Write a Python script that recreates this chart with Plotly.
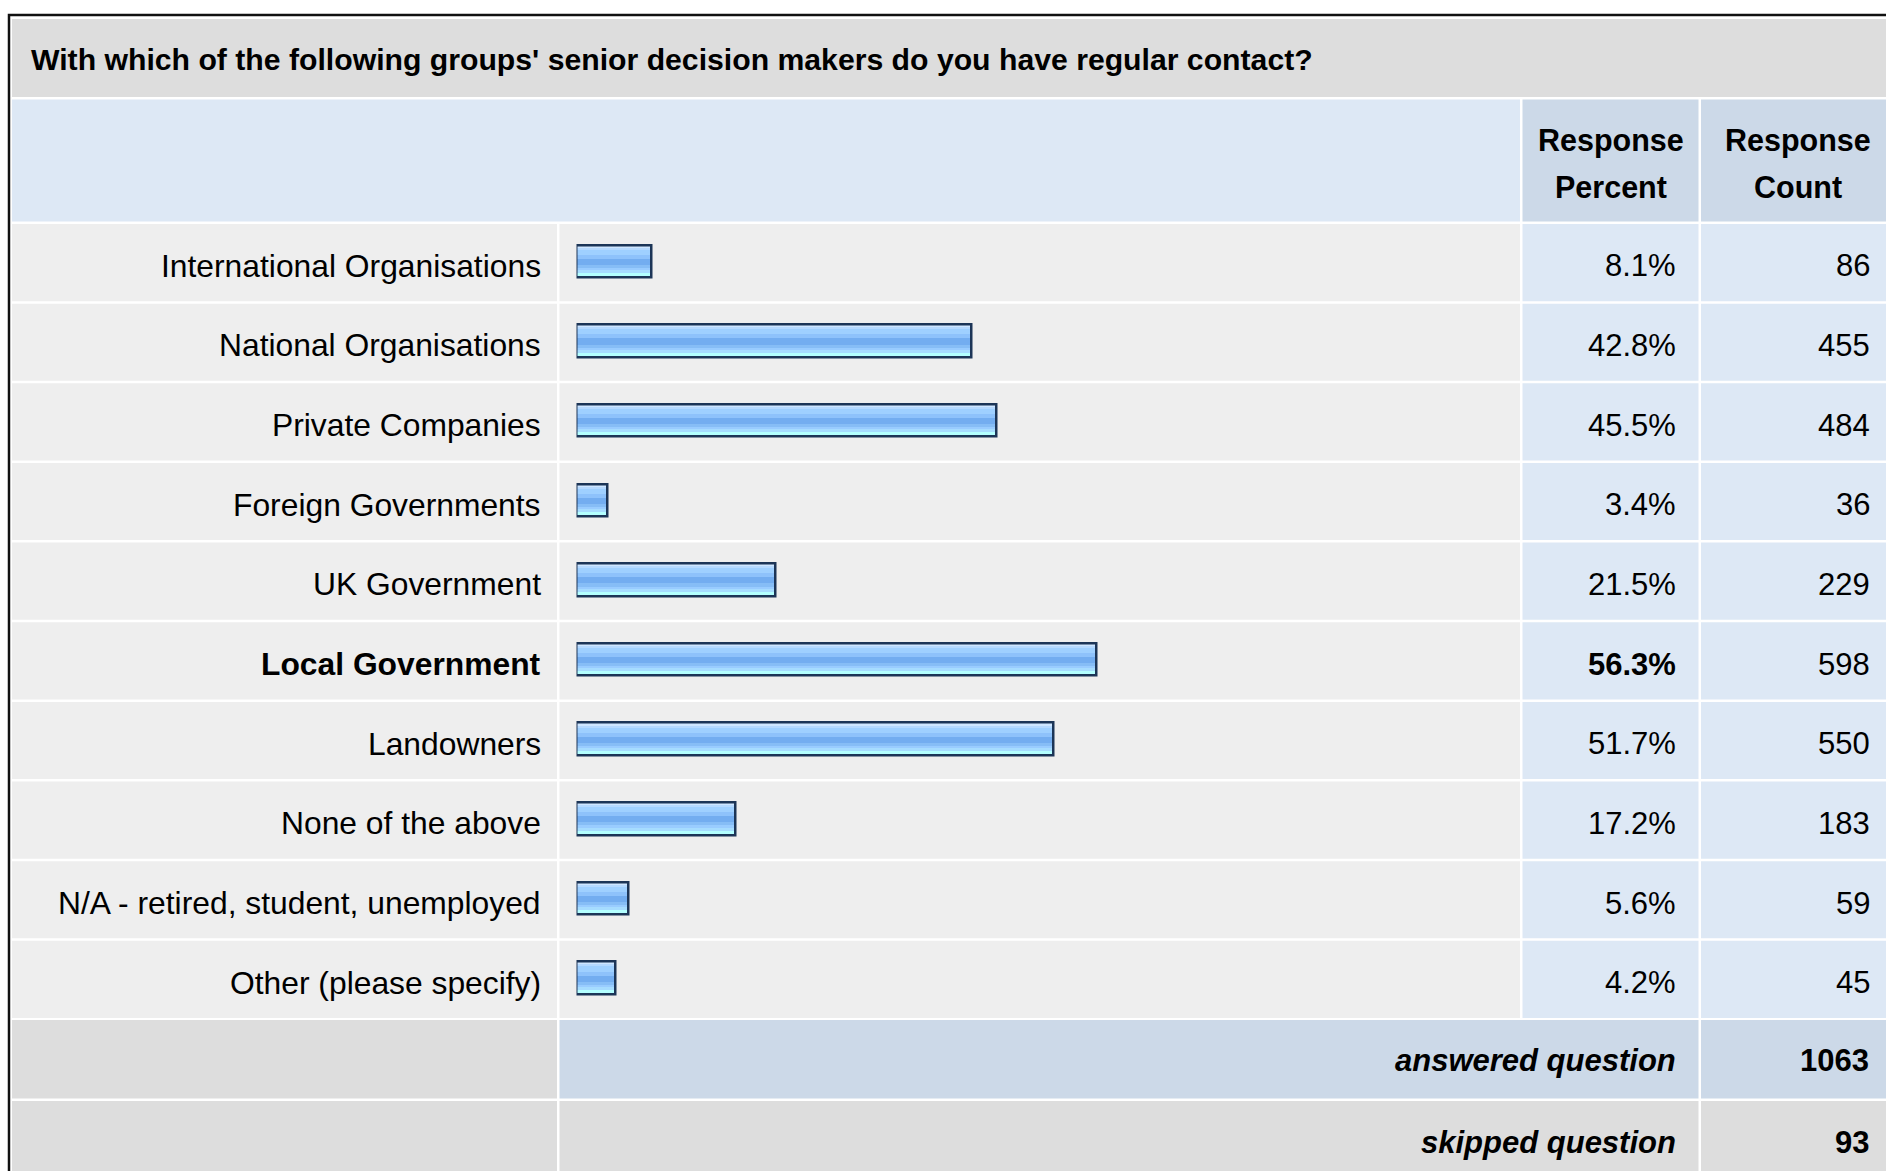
import plotly.graph_objects as go

W, H = 1886, 1171

title = "With which of the following groups' senior decision makers do you have regular contact?"
categories = ["International Organisations", "National Organisations", "Private Companies",
              "Foreign Governments", "UK Government", "Local Government", "Landowners",
              "None of the above", "N/A - retired, student, unemployed", "Other (please specify)"]
percents = [8.1, 42.8, 45.5, 3.4, 21.5, 56.3, 51.7, 17.2, 5.6, 4.2]
counts = [86, 455, 484, 36, 229, 598, 550, 183, 59, 45]
highlight = "Local Government"
header_top = ["Response", "Response"]
header_bottom = ["Percent", "Count"]
answered = 1063
skipped = 93

# pixel -> paper helpers
def px(x):
    return x / W

def py(y):
    return 1 - y / H

# stripe colours of the bar gradient, top to bottom (relative thickness)
stripes = [("#cfe6ff", 2), ("#b5d9ff", 2), ("#9fd0ff", 5), ("#8ec2fb", 4), ("#73adf0", 6),
           ("#86bdf6", 3), ("#99ccff", 2), ("#a6dcff", 3), ("#b3ffff", 5)]

row_top, row_bot = 221.5, 1018
pitch = (row_bot - row_top) / len(categories)
bw = 32.5 / pitch  # bar thickness in category units

fig = go.Figure()
total = sum(s for _, s in stripes)
acc = 0
for col, s in stripes:
    fig.add_trace(go.Bar(
        y=categories, x=percents, orientation="h",
        width=bw * s / total, offset=-bw / 2 + bw * acc / total,
        marker=dict(color=col, line=dict(width=0)),
        hoverinfo="skip", showlegend=False))
    acc += s
# border
fig.add_trace(go.Bar(
    y=categories, x=percents, orientation="h", width=bw, offset=-bw / 2,
    marker=dict(color="rgba(0,0,0,0)", line=dict(width=2.5, color="#1c3557")),
    hovertemplate="%{y}: %{x}%<extra></extra>", showlegend=False))

# cell backgrounds
GREY, LIGHT, BLUE, BLUE2 = "#dddddd", "#eeeeee", "#dde8f5", "#ccd9e8"
shapes = []

def cell(x0, y0, x1, y1, color):
    shapes.append(dict(type="rect", xref="paper", yref="paper", layer="below",
                       x0=px(x0), x1=px(x1), y0=py(y1), y1=py(y0),
                       fillcolor=color, line=dict(width=0)))

cell(12, 19, W, 97, GREY)
cell(12, 99.5, 1520, 221.5, BLUE)
cell(1522.5, 99.5, 1698.5, 221.5, BLUE2)
cell(1701, 99.5, W, 221.5, BLUE2)
for i in range(len(categories)):
    t = row_top + i * pitch + 2.5
    b = row_top + (i + 1) * pitch
    cell(12, t, 557, b, LIGHT)
    cell(559.5, t, 1520, b, LIGHT)
    cell(1522.5, t, 1698.5, b, BLUE)
    cell(1701, t, W, b, BLUE)
cell(12, 1020, 557, 1098.5, GREY)
cell(559.5, 1020, 1698.5, 1098.5, BLUE2)
cell(1701, 1020, W, 1098.5, BLUE2)
cell(12, 1101, 557, H + 5, GREY)
cell(559.5, 1101, 1698.5, H + 5, GREY)
cell(1701, 1101, W, H + 5, GREY)
# outer border
shapes.append(dict(type="rect", xref="paper", yref="paper", layer="below",
                   x0=px(9), x1=px(W + 10), y0=py(H + 10), y1=py(15),
                   fillcolor="rgba(0,0,0,0)", line=dict(width=2.5, color="#111111")))

FONT = "Liberation Sans, Arial, sans-serif"
ann = []
ann.append(dict(text="<b>" + title + "</b>", x=px(29), y=py(60), xref="paper", yref="paper",
                xanchor="left", yanchor="middle", showarrow=False,
                font=dict(size=30.2, color="#000000")))
for i, (a, b) in enumerate(zip(header_top, header_bottom)):
    cx = [1610.5, 1797.5][i]
    ann.append(dict(text="<b>" + a + "</b>", x=px(cx), y=py(140), xref="paper", yref="paper",
                    xanchor="center", yanchor="middle", showarrow=False, font=dict(size=30.5)))
    ann.append(dict(text="<b>" + b + "</b>", x=px(cx), y=py(187), xref="paper", yref="paper",
                    xanchor="center", yanchor="middle", showarrow=False, font=dict(size=30.5)))
for c, p, n in zip(categories, percents, counts):
    bold = c == highlight
    lab = "<b>%s</b>" % c if bold else c
    pct = "<b>%.1f%%</b>" % p if bold else "%.1f%%" % p
    ann.append(dict(text=lab, x=px(542.5), y=c, xref="paper", yref="y", yshift=-4.5,
                    xanchor="right", yanchor="middle", showarrow=False, font=dict(size=31.8)))
    ann.append(dict(text=pct, x=px(1677.5), y=c, xref="paper", yref="y", yshift=-4.5,
                    xanchor="right", yanchor="middle", showarrow=False, font=dict(size=31)))
    ann.append(dict(text=str(n), x=px(1871.5), y=c, xref="paper", yref="y", yshift=-4.5,
                    xanchor="right", yanchor="middle", showarrow=False, font=dict(size=31)))
for lab, val, yy in [("answered question", answered, 1060), ("skipped question", skipped, 1142)]:
    ann.append(dict(text="<b><i>" + lab + "</i></b>", x=px(1678), y=py(yy), xref="paper", yref="paper",
                    xanchor="right", yanchor="middle", showarrow=False, font=dict(size=31)))
    ann.append(dict(text="<b>%d</b>" % val, x=px(1871), y=py(yy), xref="paper", yref="paper",
                    xanchor="right", yanchor="middle", showarrow=False, font=dict(size=31)))

fig.update_layout(
    width=W, height=H, margin=dict(l=0, r=0, t=0, b=0),
    paper_bgcolor="#ffffff", plot_bgcolor="rgba(0,0,0,0)",
    barmode="overlay", bargap=0,
    font=dict(family=FONT, color="#000000"),
    shapes=shapes, annotations=ann,
    xaxis=dict(domain=[px(576.5), px(1500)], range=[0, 100], visible=False, fixedrange=True),
    yaxis=dict(domain=[py(row_bot), py(row_top)], range=[len(categories) - 0.5, -0.5],
               visible=False, fixedrange=True, categoryorder="array", categoryarray=categories),
)

# page has a default 8px body margin; drop it so the figure fills the window
fig.write_html("out.html", config={"displayModeBar": False},
               post_script="document.body.style.margin='0';document.body.style.overflow='hidden';")
